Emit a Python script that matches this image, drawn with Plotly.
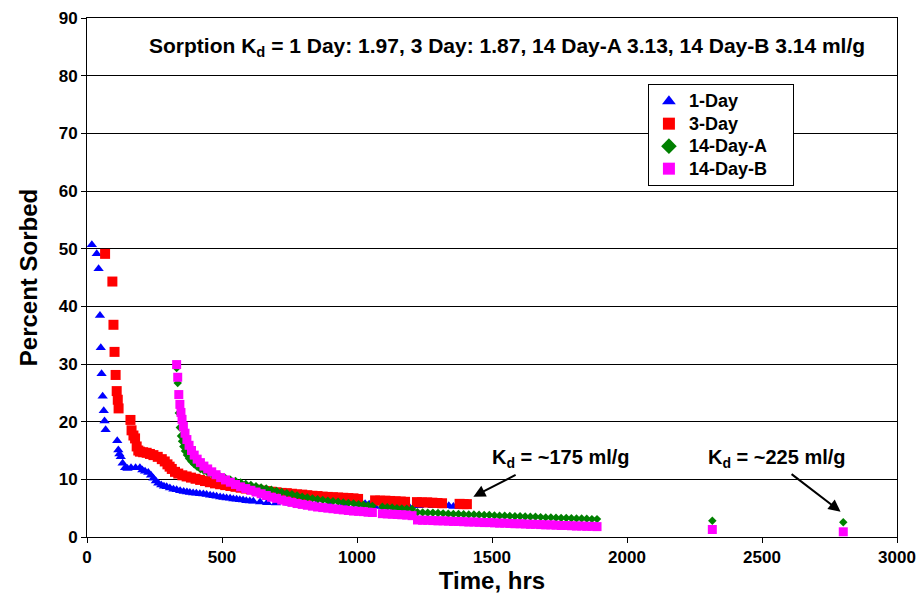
import plotly.graph_objects as go

# ---------------- data ----------------
day1_t = [18, 36, 43, 48, 51, 54, 58, 62, 65, 69, 112, 116, 120, 125, 132, 141, 150, 163, 180, 196,
          205, 215, 227, 237, 246, 255, 264, 275, 285, 295, 307, 320, 332, 345, 358, 370, 381, 393, 405, 418,
          431, 443, 456, 468, 480, 493, 505, 517, 530, 542, 554, 566, 578, 590, 603, 616, 641, 667, 700, 750,
          800, 850, 900, 950, 1000, 1030, 1045, 1066, 1100, 1150, 1190, 1230, 1280, 1320, 1340, 1357, 1380]
day1_v = [50.7, 49.1, 46.5, 38.4, 32.8, 28.3, 24.4, 21.9, 20.1, 18.6, 16.7, 15.1, 14.4, 13.9, 12.8, 12.0, 11.9, 12.0, 12.0, 12.0,
          11.6, 11.4, 11.2, 10.7, 10.2, 9.7, 9.3, 9.0, 8.8, 8.7, 8.5, 8.3, 8.2, 8.0, 7.9, 7.8, 7.7, 7.65, 7.6, 7.5,
          7.45, 7.35, 7.25, 7.15, 7.05, 6.95, 6.85, 6.75, 6.7, 6.6, 6.55, 6.45, 6.4, 6.3, 6.25, 6.2, 6.05, 5.95, 5.9, 5.85,
          5.8, 5.8, 5.75, 5.7, 5.7, 5.75, 5.7, 5.3, 5.3, 5.3, 5.4, 5.4, 5.4, 5.4, 5.4, 5.3, 5.3]

day3_t = [67, 94, 98, 102, 106, 110, 114, 117, 161, 165, 172, 178, 184, 190, 196, 208, 221, 233, 246, 262,
          277, 288, 298, 306, 314, 326, 338, 353, 369, 385, 402, 419, 437, 455, 474, 493, 512, 531, 550, 569,
          588, 607, 626, 645, 664, 683, 702, 721, 740, 759, 778, 797, 816, 835, 854, 873, 892, 911, 930, 949,
          968, 987, 1004, 1067, 1086, 1105, 1124, 1143, 1162, 1178, 1222, 1241, 1260, 1279, 1298, 1315, 1380, 1395, 1407]
day3_v = [49.1, 44.3, 36.8, 32.1, 28.1, 25.3, 23.8, 22.3, 20.3, 18.5, 17.6, 17.1, 15.7, 15.0, 14.8, 14.7, 14.6, 14.4, 14.2, 13.9,
          13.5, 13.1, 12.6, 12.2, 11.8, 11.3, 11.0, 10.7, 10.5, 10.3, 10.1, 9.9, 9.7, 9.5, 9.3, 9.15, 9.0, 8.85, 8.7, 8.55,
          8.4, 8.3, 8.2, 8.05, 7.95, 7.85, 7.75, 7.65, 7.6, 7.5, 7.4, 7.35, 7.25, 7.15, 7.1, 7.0, 6.95, 6.9, 6.85, 6.8,
          6.75, 6.7, 6.6, 6.35, 6.3, 6.3, 6.25, 6.2, 6.15, 6.1, 6.05, 6.0, 6.0, 5.95, 5.9, 5.85, 5.75, 5.7, 5.7]

day14_t = [332, 336, 340, 344, 348, 352, 357, 363, 370, 378, 387, 397, 408, 420, 433, 447, 462, 478, 495, 513,
           531, 550, 569, 588, 607, 626, 645, 664, 683, 702, 721, 740, 759, 778, 797, 816, 835, 854, 873, 892,
           911, 930, 949, 968, 987, 1006, 1024, 1041, 1057, 1094, 1112, 1130, 1148, 1166, 1184, 1204, 1224, 1243, 1262, 1281,
           1300, 1319, 1338, 1357, 1376, 1395, 1414, 1433, 1452, 1471, 1490, 1509, 1528, 1547, 1566, 1585, 1604, 1623, 1642, 1661,
           1680, 1699, 1718, 1737, 1756, 1775, 1794, 1813, 1832, 1851, 1870, 1889, 2316, 2801]
day14a_v = [29.3, 26.7, 21.5, 19.0, 17.5, 16.6, 15.7, 14.9, 14.2, 13.6, 13.1, 12.6, 12.2, 11.8, 11.5, 11.2, 10.95, 10.7, 10.45, 10.2,
            9.95, 9.7, 9.45, 9.2, 9.0, 8.8, 8.6, 8.4, 8.2, 8.0, 7.8, 7.6, 7.4, 7.2, 7.0, 6.85, 6.7, 6.55, 6.4, 6.3,
            6.2, 6.1, 6.0, 5.9, 5.8, 5.7, 5.6, 5.5, 5.4, 5.25, 5.15, 5.1, 5.0, 4.95, 4.9, 4.85, 4.3, 4.25, 4.2, 4.2,
            4.15, 4.1, 4.05, 4.0, 4.0, 3.95, 3.9, 3.9, 3.85, 3.8, 3.8, 3.75, 3.7, 3.7, 3.65, 3.6, 3.6, 3.55, 3.5, 3.5,
            3.45, 3.4, 3.4, 3.35, 3.3, 3.3, 3.25, 3.2, 3.2, 3.15, 3.1, 3.1, 2.8, 2.55]
day14b_v = [29.9, 27.7, 24.7, 23.0, 21.6, 20.4, 19.2, 18.0, 16.9, 15.9, 15.0, 14.2, 13.5, 12.9, 12.3, 11.8, 11.3, 10.8, 10.3, 9.9,
            9.5, 9.1, 8.7, 8.4, 8.1, 7.8, 7.5, 7.2, 6.9, 6.7, 6.4, 6.2, 6.0, 5.8, 5.65, 5.5, 5.35, 5.2, 5.1, 5.0,
            4.9, 4.8, 4.7, 4.6, 4.5, 4.45, 4.4, 4.3, 4.25, 4.05, 4.0, 3.95, 3.9, 3.85, 3.8, 3.7, 2.95, 2.9, 2.9, 2.85,
            2.8, 2.8, 2.75, 2.7, 2.7, 2.65, 2.6, 2.6, 2.55, 2.5, 2.5, 2.45, 2.4, 2.4, 2.35, 2.3, 2.3, 2.25, 2.2, 2.2,
            2.15, 2.1, 2.1, 2.05, 2.0, 2.0, 1.95, 1.9, 1.9, 1.85, 1.85, 1.8, 1.3, 0.9]

assert len(day1_t) == len(day1_v)
assert len(day3_t) == len(day3_v)
assert len(day14_t) == len(day14a_v) == len(day14b_v)

series_names = ["1-Day", "3-Day", "14-Day-A", "14-Day-B"]
x_ticks = [0, 500, 1000, 1500, 2000, 2500, 3000]
y_ticks = [0, 10, 20, 30, 40, 50, 60, 70, 80, 90]

title_text = "Sorption K<sub>d</sub> = 1 Day: 1.97, 3 Day: 1.87, 14 Day-A 3.13, 14 Day-B 3.14 ml/g"
note1 = "K<sub>d</sub> = ~175 ml/g"
note2 = "K<sub>d</sub> = ~225 ml/g"

FONT = "Liberation Sans, Arial, sans-serif"


def legend_label(s):
    # larger text inside a tighter legend row; trailing spaces pad the legend box on the right
    return "<span style='font-size:18px'>" + s + "&nbsp;&nbsp;&nbsp;&nbsp;</span>"


fig = go.Figure()
fig.add_trace(go.Scatter(x=day1_t, y=day1_v, mode="markers", name=legend_label(series_names[0]),
                         marker=dict(symbol="triangle-up", size=9, color="#0000FF", line=dict(width=0))))
fig.add_trace(go.Scatter(x=day3_t, y=day3_v, mode="markers", name=legend_label(series_names[1]),
                         marker=dict(symbol="square", size=10, color="#FF0000", line=dict(width=0))))
fig.add_trace(go.Scatter(x=day14_t, y=day14a_v, mode="markers", name=legend_label(series_names[2]),
                         marker=dict(symbol="diamond", size=6.5, color="#008000", line=dict(width=0))))
fig.add_trace(go.Scatter(x=day14_t, y=day14b_v, mode="markers", name=legend_label(series_names[3]),
                         marker=dict(symbol="square", size=9, color="#FF00FF", line=dict(width=0))))

tickfont = dict(family=FONT, size=17, color="black", weight="bold")
titlefont = dict(family=FONT, size=24, color="black", weight="bold")

fig.update_xaxes(range=[0, 3000], tickvals=x_ticks, automargin=False,
                 showline=True, linecolor="black", linewidth=1, mirror=True,
                 showgrid=False, zeroline=False, ticks="outside", ticklen=5, tickcolor="black",
                 tickfont=tickfont,
                 title=dict(text="Time, hrs", standoff=4, font=titlefont))
fig.update_yaxes(range=[0, 90], tickvals=y_ticks, automargin=False,
                 showline=True, linecolor="black", linewidth=1, mirror=True,
                 showgrid=True, gridcolor="black", gridwidth=1,
                 zeroline=False, ticks="outside", ticklen=5, tickcolor="black",
                 tickfont=tickfont,
                 title=dict(text="Percent Sorbed", standoff=14, font=titlefont))

fig.add_annotation(x=1554, y=84.9, xref="x", yref="y", text=title_text, showarrow=False,
                   font=dict(family=FONT, size=21, color="black", weight="bold"))
fig.add_annotation(x=1757, y=13.7, xref="x", yref="y", text=note1, showarrow=False,
                   font=dict(family=FONT, size=20, color="black", weight="bold"))
fig.add_annotation(x=2554, y=13.7, xref="x", yref="y", text=note2, showarrow=False,
                   font=dict(family=FONT, size=20, color="black", weight="bold"))
fig.add_annotation(x=1431, y=7.0, ax=1593, ay=10.9, xref="x", yref="y", axref="x", ayref="y",
                   text="", showarrow=True, arrowhead=2, arrowsize=1.2, arrowwidth=2, arrowcolor="black")
fig.add_annotation(x=2791, y=4.4, ax=2604, ay=11.1, xref="x", yref="y", axref="x", ayref="y",
                   text="", showarrow=True, arrowhead=2, arrowsize=1.2, arrowwidth=2, arrowcolor="black")

fig.update_layout(
    width=919, height=608,
    margin=dict(l=87, r=22, t=18, b=71, autoexpand=False),
    paper_bgcolor="white", plot_bgcolor="white",
    showlegend=True,
    legend=dict(x=0.6925, y=0.873, xanchor="left", yanchor="top",
                bgcolor="white", bordercolor="black", borderwidth=1,
                font=dict(family=FONT, size=15, color="black", weight="bold"),
                itemsizing="constant", tracegroupgap=0),
)

fig.write_html("out.html")
